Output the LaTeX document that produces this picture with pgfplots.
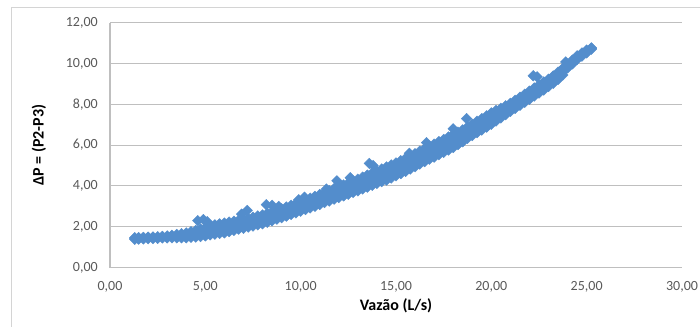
\documentclass[border=0pt]{standalone}
\usepackage{fontspec}
\setmainfont{Carlito}
\usepackage{pgfplots}
\usepackage{pgfplotstable}
\pgfplotsset{compat=1.18}
\definecolor{ptblue}{RGB}{83,141,204}
\definecolor{gridgray}{RGB}{191,191,191}
\definecolor{ticktext}{RGB}{89,89,89}
\definecolor{framegray}{RGB}{212,212,212}
\pgfplotsset{pts/.style={only marks, mark=square*, mark size=2.8pt,
    mark options={rotate=45, fill=ptblue, draw=ptblue, line width=0.3pt}}}
\pgfplotstableread{
x lo mid hi
1.30 1.38 1.42 1.46
1.50 1.39 1.43 1.47
1.75 1.40 1.44 1.48
2.00 1.41 1.45 1.49
2.25 1.42 1.46 1.50
2.50 1.43 1.47 1.51
2.75 1.45 1.49 1.53
3.00 1.45 1.50 1.55
3.25 1.46 1.52 1.58
3.50 1.46 1.54 1.62
3.75 1.46 1.56 1.66
4.00 1.46 1.58 1.70
4.25 1.48 1.62 1.76
4.50 1.49 1.65 1.82
4.75 1.52 1.70 1.89
5.00 1.55 1.74 1.94
5.25 1.60 1.80 2.02
5.50 1.63 1.86 2.09
5.75 1.67 1.92 2.14
6.00 1.70 1.96 2.18
6.25 1.76 2.01 2.23
6.50 1.82 2.06 2.27
6.75 1.88 2.12 2.32
7.00 1.92 2.16 2.36
7.25 1.98 2.22 2.42
7.50 2.03 2.27 2.47
7.75 2.09 2.33 2.53
8.00 2.14 2.38 2.58
8.25 2.22 2.46 2.66
8.50 2.29 2.53 2.73
8.75 2.37 2.61 2.81
9.00 2.44 2.68 2.88
9.25 2.52 2.76 2.97
9.50 2.60 2.84 3.05
9.75 2.68 2.93 3.14
10.00 2.76 3.01 3.23
10.25 2.84 3.10 3.32
10.50 2.92 3.18 3.40
10.75 3.00 3.26 3.49
11.00 3.09 3.35 3.58
11.25 3.18 3.45 3.68
11.50 3.26 3.53 3.77
11.75 3.35 3.63 3.87
12.00 3.43 3.71 3.96
12.25 3.51 3.80 4.05
12.50 3.59 3.88 4.14
12.75 3.68 3.98 4.24
13.00 3.76 4.06 4.33
13.25 3.85 4.16 4.43
13.50 3.94 4.25 4.53
13.75 4.03 4.35 4.63
14.00 4.12 4.44 4.73
14.25 4.21 4.54 4.83
14.50 4.29 4.63 4.93
14.75 4.39 4.73 5.03
15.00 4.49 4.83 5.13
15.25 4.60 4.94 5.24
15.50 4.71 5.05 5.35
15.75 4.83 5.17 5.47
16.00 4.94 5.28 5.58
16.25 5.07 5.41 5.71
16.50 5.19 5.53 5.83
16.75 5.31 5.65 5.95
17.00 5.41 5.75 6.05
17.25 5.53 5.87 6.17
17.50 5.64 5.98 6.28
17.75 5.76 6.10 6.40
18.00 5.88 6.22 6.52
18.25 6.03 6.35 6.64
18.50 6.16 6.46 6.75
18.75 6.33 6.61 6.89
19.00 6.47 6.75 7.03
19.25 6.61 6.89 7.17
19.50 6.74 7.02 7.30
19.75 6.88 7.16 7.44
20.00 7.02 7.30 7.58
20.25 7.18 7.44 7.70
20.50 7.33 7.57 7.81
20.75 7.49 7.71 7.93
21.00 7.65 7.85 8.05
21.25 7.80 8.00 8.20
21.50 7.95 8.15 8.35
21.75 8.10 8.30 8.50
22.00 8.25 8.45 8.65
22.25 8.40 8.60 8.80
22.50 8.55 8.75 8.95
22.75 8.70 8.90 9.10
23.00 8.87 9.05 9.23
23.25 9.03 9.21 9.39
23.50 9.22 9.40 9.58
23.75 9.44 9.60 9.76
24.00 9.78 9.85 9.97
24.25 9.98 10.05 10.17
24.50 10.20 10.28 10.38
24.75 10.36 10.44 10.52
25.00 10.52 10.59 10.66
25.25 10.70 10.74 10.77
}\maindata
\pgfplotstableread{
x y
4.60 2.30
4.90 2.35
5.10 2.25
6.90 2.62
7.20 2.80
8.20 3.08
8.50 3.05
8.85 3.00
9.90 3.32
10.20 3.45
11.35 3.85
11.90 4.25
12.60 4.40
13.60 5.10
13.80 5.00
15.70 5.60
16.60 6.12
18.00 6.80
18.70 7.30
22.20 9.40
22.40 9.35
23.90 10.08
}\bumps
\begin{document}
\begin{tikzpicture}
\useasboundingbox (0,0) rectangle (525pt,245.25pt);
\draw[framegray, line width=0.9pt] (8.7pt,-5pt) -- (8.7pt,239.8pt) -- (530pt,239.8pt);
\begin{axis}[
  at={(82.5pt,44.6pt)}, anchor=south west,
  scale only axis, width=429pt, height=183.6pt,
  xmin=0, xmax=30, ymin=0, ymax=12,
  xtick={0,5,...,30}, ytick={0,2,...,12},
  axis lines*=left,
  axis line style={gridgray, line width=0.8pt, -},
  ymajorgrids, grid style={gridgray, line width=0.8pt},
  major tick length=0pt,
  tick label style={font=\fontsize{10.5}{12}\selectfont, text=ticktext},
  /pgf/number format/.cd, fixed, fixed zerofill, precision=2, use comma, 1000 sep={}, assume math mode=true,
  /pgfplots/.cd,
  yticklabel style={inner sep=0pt, anchor=east, xshift=-9pt},
  xticklabel style={inner sep=0pt, anchor=north, yshift=-10pt},
  xlabel={Vazão (L/s)},
  ylabel={ΔP = (P2-P3)},
  label style={font=\fontsize{12}{14}\selectfont\bfseries},
  xlabel style={at={(axis description cs:0.5,-0.1573)}, anchor=center},
  ylabel style={at={(axis description cs:-0.1241,0.5)}, anchor=center},
  clip=false,
]
\addplot[pts] table[x=x, y=lo] {\maindata};
\addplot[pts] table[x=x, y=hi] {\maindata};
\addplot[pts] table[x=x, y=mid] {\maindata};
\addplot[pts] table[x=x, y=y] {\bumps};
\end{axis}
\end{tikzpicture}
\end{document}
